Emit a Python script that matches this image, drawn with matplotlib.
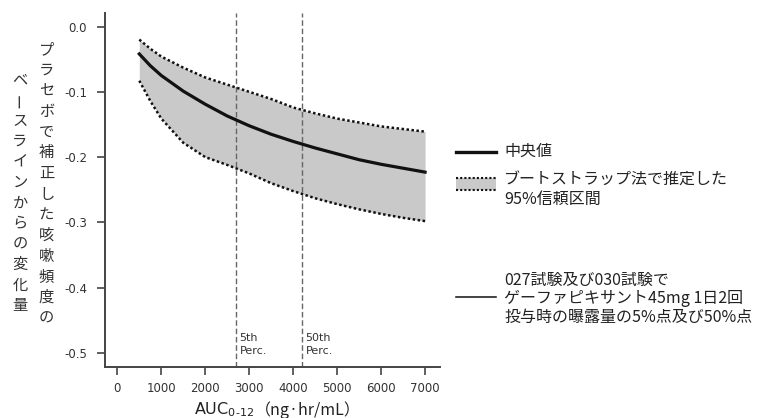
import matplotlib
matplotlib.use("Agg")
import matplotlib.pyplot as plt
from matplotlib.lines import Line2D
from matplotlib.patches import Rectangle

plt.rcParams['font.family'] = ['Noto Sans CJK JP', 'DejaVu Sans']
plt.rcParams['axes.unicode_minus'] = False

# ---- data ----
auc = [500, 750, 1000, 1500, 2000, 2500, 3000, 3500, 4000, 4500, 5000, 5500, 6000, 6500, 7000]
median = [-0.042, -0.060, -0.075, -0.099, -0.119, -0.137, -0.152, -0.165, -0.176, -0.186,
          -0.195, -0.204, -0.211, -0.217, -0.223]
upper = [-0.020, -0.034, -0.046, -0.063, -0.078, -0.089, -0.100, -0.111, -0.124, -0.133,
         -0.141, -0.147, -0.153, -0.157, -0.161]
lower = [-0.083, -0.114, -0.141, -0.178, -0.200, -0.212, -0.225, -0.240, -0.252, -0.263,
         -0.272, -0.280, -0.287, -0.293, -0.298]
perc_x = [2700, 4200]
perc_labels = ["5th\nPerc.", "50th\nPerc."]
xticks = [0, 1000, 2000, 3000, 4000, 5000, 6000, 7000]
yticks = [0.0, -0.1, -0.2, -0.3, -0.4, -0.5]
ylabel_right = "プラセボで補正した咳嗽頻度の"
ylabel_left = "ベースラインからの変化量"
legend_median = "中央値"
legend_ci = ["ブートストラップ法で推定した", "95%信頼区間"]
legend_perc = ["027試験及び030試験で", "ゲーファピキサント45mg 1日2回", "投与時の曝露量の5%点及び50%点"]

W, H = 767, 418
fig = plt.figure(figsize=(W / 100, H / 100), dpi=100)

def fx(px):
    return px / W

def fy(py):
    return 1 - py / H

ax_l, ax_r, ax_t, ax_b = 105, 440, 13, 366.7
ax = fig.add_axes([fx(ax_l), fy(ax_b), fx(ax_r - ax_l), (ax_b - ax_t) / H])

band_col = '#c9c9c9'
ax.fill_between(auc, lower, upper, color=band_col, lw=0, zorder=1)
ax.plot(auc, upper, color='#111111', lw=1.8, ls=(0, (1, 1)), zorder=3)
ax.plot(auc, lower, color='#111111', lw=1.8, ls=(0, (1, 1)), zorder=3)
ax.plot(auc, median, color='#111111', lw=2.3, zorder=4)

for xv, lab in zip(perc_x, perc_labels):
    ax.axvline(xv, color='#666666', lw=1.0, ls=(0, (4, 2)), zorder=2)
    ax.text(xv + 80, -0.487, lab, fontsize=8, color='#333333', ha='left', va='center',
            linespacing=1.4, family='DejaVu Sans')

ax.set_xlim(-280, 7340)
ax.set_ylim(-0.521, 0.0207)
ax.set_xticks(xticks)
ax.set_yticks(yticks)
ax.set_xticklabels([str(v) for v in xticks], family='DejaVu Sans')
ax.set_yticklabels([f"{v:.1f}" if v != 0 else "0.0" for v in yticks], family='DejaVu Sans')
ax.tick_params(axis='both', labelsize=8.5, labelcolor='#333333', color='#444444',
               length=6, width=1.2, direction='out')
ax.tick_params(axis='y', pad=7)
ax.tick_params(axis='x', pad=5)
for s in ['top', 'right']:
    ax.spines[s].set_visible(False)
for s in ['left', 'bottom']:
    ax.spines[s].set_color('#444444')
    ax.spines[s].set_linewidth(1.4)

# vertical Japanese y-label (two columns, right column first)
def vcol(text, x, y0, step):
    for i, ch in enumerate(text):
        rot = 90 if ch == 'ー' else 0
        fig.text(fx(x), fy(y0 + i * step), ch, fontsize=11, color='#333333',
                 ha='center', va='center', rotation=rot,
                 family=['Noto Sans CJK JP', 'DejaVu Sans'])

vcol(ylabel_right, 46.5, 50, 20.6)
vcol(ylabel_left, 20, 80, 20.5)

# x label
fig.text(fx(254), fy(410), r"AUC$_{\mathregular{0\text{-}12}}$", fontsize=11.5, color='#222222',
         ha='right', va='center', family='DejaVu Sans')
fig.text(fx(255), fy(410), "（ng·hr/mL）", fontsize=11.5, color='#222222',
         ha='left', va='center', family=['Noto Sans CJK JP', 'DejaVu Sans'])

# manual legend
lx0, lx1, tx = 456, 496, 504
leg_fs = 11.5
fig.add_artist(Line2D([fx(lx0), fx(lx1)], [fy(151.5), fy(151.5)], color='#111111', lw=2.4,
                      transform=fig.transFigure))
fig.text(fx(tx), fy(151.5), legend_median, fontsize=leg_fs, color='#222222', ha='left', va='center')

fig.add_artist(Rectangle((fx(lx0), fy(190)), fx(lx1 - lx0), (190 - 178) / H,
                         facecolor=band_col, edgecolor='none', transform=fig.transFigure))
for yy in (178, 190):
    fig.add_artist(Line2D([fx(lx0), fx(lx1)], [fy(yy), fy(yy)], color='#111111', lw=1.5,
                          ls=(0, (1, 1)), transform=fig.transFigure))
for i, t in enumerate(legend_ci):
    fig.text(fx(tx), fy(180 + i * 19.5), t, fontsize=leg_fs, color='#222222', ha='left', va='center')

fig.add_artist(Line2D([fx(lx0), fx(lx1)], [fy(297), fy(297)], color='#111111', lw=1.1,
                      transform=fig.transFigure))
for i, t in enumerate(legend_perc):
    fig.text(fx(tx), fy(280 + i * 18.5), t, fontsize=leg_fs, color='#222222', ha='left', va='center')

fig.savefig("out.png", dpi=100)
